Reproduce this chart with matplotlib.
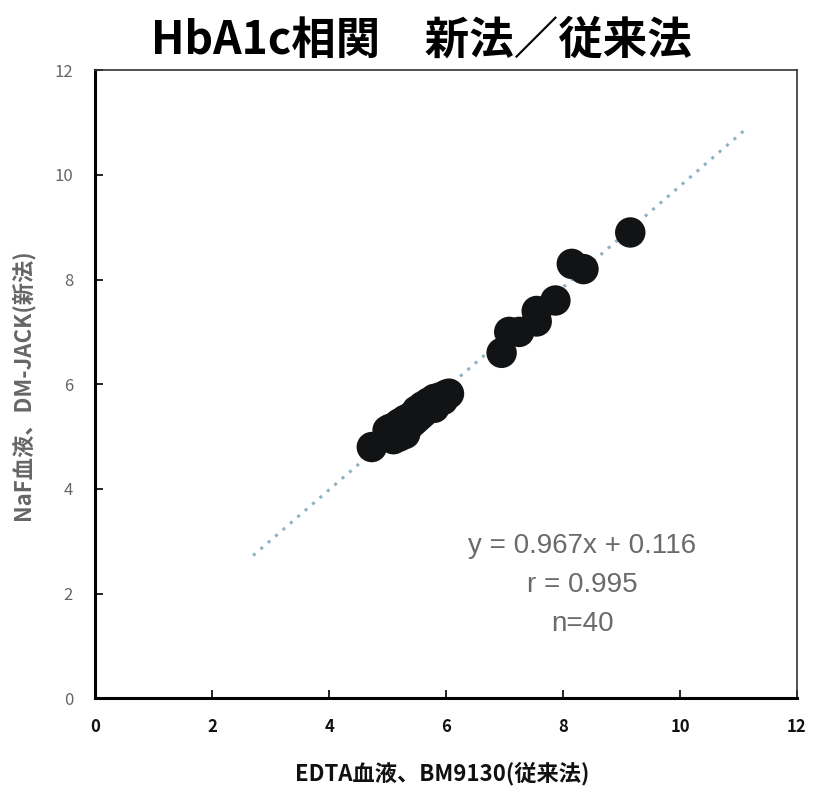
import matplotlib
matplotlib.use("Agg")
import matplotlib.pyplot as plt

plt.rcParams["font.family"] = ["Noto Sans CJK JP", "DejaVu Sans"]

# HbA1c (%) : EDTA / BM9130 (x) vs NaF / DM-JACK (y)
x_old = [4.73, 5.00, 5.05, 5.10, 5.10, 5.15, 5.20, 5.20, 5.25, 5.30,
         5.30, 5.35, 5.40, 5.40, 5.45, 5.50, 5.50, 5.55, 5.60, 5.60,
         5.65, 5.70, 5.70, 5.75, 5.80, 5.80, 5.85, 5.90, 5.95, 6.00,
         6.05, 6.95, 7.08, 7.25, 7.55, 7.55, 7.87, 8.15, 8.35, 9.15]
y_new = [4.80, 5.12, 5.15, 4.95, 5.05, 5.20, 5.00, 5.25, 5.10, 5.32,
         5.05, 5.20, 5.38, 5.25, 5.30, 5.50, 5.35, 5.40, 5.58, 5.45,
         5.50, 5.65, 5.55, 5.60, 5.72, 5.55, 5.65, 5.75, 5.70, 5.80,
         5.82, 6.60, 7.00, 7.00, 7.40, 7.20, 7.60, 8.30, 8.20, 8.90]

slope = 0.967
intercept = 0.116
fit_x = [2.7, 11.15]
fit_y = [slope * v + intercept for v in fit_x]

ticks = [0, 2, 4, 6, 8, 10, 12]

fig = plt.figure(figsize=(8.14, 7.89), dpi=100)
ax = fig.add_axes([0.117, 0.115, 0.862, 0.796])

ax.plot(fit_x, fit_y, linestyle=(0, (1, 2.2)), color="#8fb2c2", linewidth=2.2, zorder=1)
ax.scatter(x_old, y_new, s=480, color="#111314", edgecolors="none", zorder=2)

ax.set_xlim(0, 12)
ax.set_ylim(0, 12)
ax.set_xticks(ticks)
ax.set_yticks(ticks)
ax.tick_params(direction="in", length=6, width=1.2)
ax.tick_params(axis="x", pad=14, labelsize=12, labelcolor="#111111")
ax.tick_params(axis="y", pad=16, labelsize=12, labelcolor="#666666")
for lab in ax.get_xticklabels():
    lab.set_fontweight("bold")

for side in ["left", "bottom"]:
    ax.spines[side].set_linewidth(2.2)
for side in ["top", "right"]:
    ax.spines[side].set_linewidth(1.2)
    ax.spines[side].set_color("#333333")

fig.text(0.543, 0.020, "EDTA血液、BM9130(従来法)", fontsize=16, fontweight="bold",
         ha="center", va="center", color="#111111")
fig.text(0.028, 0.512, "NaF血液、DM-JACK(新法)", fontsize=16, fontweight="bold",
         ha="center", va="center", rotation=90, color="#666666")

fig.text(0.518, 0.949, "HbA1c相関　新法／従来法", fontsize=32, fontweight="bold",
         ha="center", va="center")

ax.text(8.33, 2.17, "y = 0.967x + 0.116\nr = 0.995\nn=40", ha="center", va="center",
        fontsize=20, color="#6a6a6a", linespacing=1.65, family="Liberation Sans")

fig.savefig("out.png", dpi=100)
